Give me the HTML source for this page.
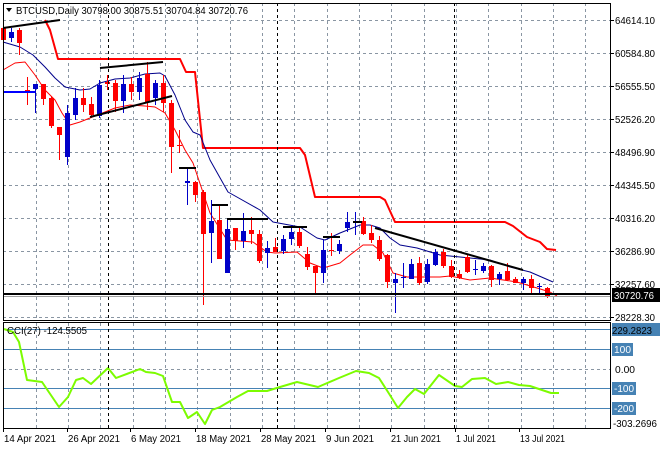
<!DOCTYPE html>
<html><head><meta charset="utf-8"><style>
html,body{margin:0;padding:0;background:#fff;}
svg{display:block;font-family:"Liberation Sans",sans-serif;}
</style></head><body>
<svg id="c" width="660" height="450" xmlns="http://www.w3.org/2000/svg">
<rect width="660" height="450" fill="#fff"/>
<g id="gridg" stroke="#8a96a3" stroke-width="1" stroke-dasharray="3,3"></g>
<g id="indg"></g>
<g id="candg"></g>
<g id="fgg"></g>
</svg>
<script>
(function(){
var NS="http://www.w3.org/2000/svg";
function el(p,t,a,txt){var e=document.createElementNS(NS,t);for(var k in a)e.setAttribute(k,a[k]);if(txt!==undefined)e.textContent=txt;p.appendChild(e);return e;}
function tx(p,x,y,s,col,w){var a={x:x,y:y,'font-size':10,fill:col||'#000'};if(w){a.textLength=w;a.lengthAdjust='spacingAndGlyphs';}return el(p,'text',a,s);}
var grid=document.getElementById('gridg'),ind=document.getElementById('indg'),cand=document.getElementById('candg'),fg=document.getElementById('fgg');
for(var x=35.5;x<611;x+=32.35){var xx=Math.round(x)+.5;el(grid,'line',{x1:xx,y1:3,x2:xx,y2:320});el(grid,'line',{x1:xx,y1:323,x2:xx,y2:428});}
[108.5,277.5,454.5].forEach(function(x){el(fg,'line',{x1:x,y1:3,x2:x,y2:320,stroke:'#000','stroke-dasharray':'3,3'});el(fg,'line',{x1:x,y1:323,x2:x,y2:428,stroke:'#000','stroke-dasharray':'3,3'});});
[20,53,86,119,152,185,218,251,284,317].forEach(function(y){el(grid,'line',{x1:3,y1:y+.5,x2:611,y2:y+.5});});
el(grid,'line',{x1:3,y1:369.5,x2:611,y2:369.5});
[329,349,388,408].forEach(function(y){el(ind,'line',{x1:3,y1:y+.5,x2:611,y2:y+.5,stroke:'#4682b4','stroke-width':1});});
function pl(p,pts,col,w){el(p,'polyline',{points:pts.map(function(q){return q.join(',');}).join(' '),fill:'none',stroke:col,'stroke-width':w,'stroke-linejoin':'round'});}
pl(ind,[[45,20],[50,30],[58,59],[180,59],[186,72],[195,72],[203,148],[300,148],[305,155],[315,197],[380,197],[385,200],[395,222],[505,222],[513,226],[527,237],[540,242],[547,249],[556,250]],'#ff0000',2);
pl(ind,[[3,42],[20,47],[33,55],[45,67],[55,78],[65,87],[80,90],[90,89],[100,83],[115,79],[130,78],[145,74],[160,73],[165,76],[175,95],[185,120],[193,132],[200,135],[210,160],[228,192],[260,210],[273,222],[300,227],[317,238],[325,240],[340,233],[360,225],[370,225],[380,228],[390,238],[400,245],[417,248],[440,255],[470,258],[490,260],[510,267],[530,272],[553,282]],'#00008b',1);
pl(ind,[[3,70],[15,63],[25,62],[35,75],[45,90],[55,100],[62,113],[70,125],[80,122],[90,118],[100,114],[115,108],[130,105],[145,106],[155,107],[165,113],[175,130],[185,150],[193,163],[210,213],[227,240],[253,242],[267,252],[275,253],[297,252],[310,263],[323,268],[330,266],[340,263],[350,255],[363,245],[373,245],[383,253],[393,273],[407,277],[440,277],[450,276],[470,280],[490,278],[517,282],[537,288],[550,292],[557,296]],'#ff0000',1);
var C=[[3,28,40,26,44,'r'],[11,38,32,28,42,'b'],[19,30,43,28,55,'r'],[27,90,91,77,105,'r'],[35,89,84,84,113,'b'],[43,84,99,84,105,'r'],[51,98,126,96,128,'r'],[59,127,135,127,160,'r'],[67,157,113,105,165,'b'],[75,115,98,88,120,'b'],[83,98,105,88,112,'r'],[91,104,115,97,118,'r'],[99,116,85,80,118,'b'],[107,82,84,75,90,'r'],[115,83,101,80,112,'r'],[123,101,84,75,113,'b'],[131,84,92,77,100,'r'],[139,92,78,72,100,'b'],[147,74,102,62,110,'r'],[155,98,83,80,105,'b'],[163,83,103,75,112,'r'],[171,103,147,100,173,'r'],[179,145,146,130,153,'r'],[187,183,181,168,205,'b'],[195,182,195,181,202,'r'],[203,192,234,190,305,'r'],[211,233,221,200,263,'b'],[219,220,259,206,259,'r'],[227,273,229,220,273,'b'],[235,228,241,228,250,'r'],[243,241,231,213,248,'b'],[251,230,234,217,244,'r'],[259,234,261,230,263,'r'],[267,253,248,241,268,'b'],[275,247,252,238,252,'r'],[283,251,239,235,254,'b'],[291,239,232,225,245,'b'],[299,232,246,228,248,'r'],[307,254,267,247,270,'r'],[315,266,273,266,294,'r'],[323,273,250,240,283,'b'],[331,250,251,233,256,'r'],[339,251,244,240,254,'b'],[347,228,222,212,232,'b'],[355,222,221,212,235,'b'],[363,221,234,217,235,'r'],[371,233,240,225,243,'r'],[379,240,259,236,261,'r'],[387,255,282,254,288,'r'],[395,283,279,273,313,'b'],[403,278,277,263,288,'b'],[411,279,264,259,279,'b'],[419,263,283,257,285,'r'],[427,282,264,259,284,'b'],[435,265,252,249,266,'b'],[443,252,266,249,268,'r'],[451,266,277,260,278,'r'],[459,274,278,270,279,'r'],[467,257,272,255,273,'r'],[475,270,269,260,275,'b'],[483,271,266,263,273,'b'],[491,266,280,265,287,'r'],[499,279,274,272,285,'b'],[507,271,280,263,281,'r'],[515,279,283,277,283,'r'],[523,283,279,277,290,'b'],[531,279,288,275,293,'r'],[539,287,286,283,293,'b'],[547,288,297,287,298,'r']];
C.forEach(function(c){var x=c[0],o=c[1],cl=c[2],h=c[3],l=c[4],col=c[5]==='r'?'#ff0000':'#0000c8';
el(cand,'line',{x1:x+.5,y1:h,x2:x+.5,y2:l,stroke:col,'stroke-width':1});
var y=Math.min(o,cl),hh=Math.max(1,Math.abs(o-cl));
el(cand,'rect',{x:x-2,y:y,width:5,height:hh,fill:col});});
var B=[[[3,28],[60,20]],[[100,68],[163,62]],[[90,117],[172,96]],[[375,228],[523,270]],[[179,168],[196,168]],[[212,205],[228,205]],[[227,219],[268,219]],[[283,227],[307,227]],[[323,237],[340,237]],[[353,222],[362,222]]];
B.forEach(function(s){pl(fg,s,'#000',2);});
pl(fg,[[3,92],[35,92]],'#0000ff',2);
el(fg,'line',{x1:3,y1:294,x2:611,y2:294,stroke:'#000','stroke-width':2});
el(fg,'line',{x1:3,y1:296.5,x2:611,y2:296.5,stroke:'#a0a0a0','stroke-width':1});
pl(ind,[[4,329],[13,332],[19,342],[27,380],[42,382],[59,407],[68,397],[76,380],[83,378],[91,384],[108,368],[116,378],[140,369],[146,372],[155,373],[163,376],[172,402],[180,402],[188,418],[197,412],[205,424],[212,410],[220,407],[237,397],[248,391],[267,391],[280,387],[297,382],[318,387],[339,378],[356,371],[369,373],[379,378],[388,392],[398,408],[407,397],[415,389],[424,394],[439,375],[455,386],[462,387],[472,379],[485,378],[496,384],[508,382],[519,385],[530,386],[536,388],[551,393],[559,393]],'#7cfc00',2);
el(fg,'rect',{x:3.5,y:3.5,width:607,height:317,fill:'none',stroke:'#000'});
el(fg,'rect',{x:3.5,y:322.5,width:607,height:106,fill:'none',stroke:'#000'});
[['64614.10',20],['60584.80',53],['56555.50',86],['52526.20',119],['48496.90',152],['44345.50',185],['40316.20',218],['36286.90',251],['32257.60',284],['28228.30',317]].forEach(function(a){el(fg,'line',{x1:611,y1:a[1]+.5,x2:614,y2:a[1]+.5,stroke:'#000'});tx(fg,615,a[1]+4,a[0],'#000',40);});
el(fg,'rect',{x:612,y:288,width:48,height:14,fill:'#000'});
tx(fg,614,299,'30720.76','#fff',40);
el(fg,'rect',{x:612,y:323,width:48,height:13,fill:'#4682b4'});
tx(fg,612,334,'229.2823','#000',40);
[['100',349,17],['-100',388,20],['-200',408,20]].forEach(function(a){el(fg,'rect',{x:612,y:a[1]-6,width:a[2]+4,height:13,fill:'#4682b4'});tx(fg,614,a[1]+4,a[0],'#fff',a[2]);});
tx(fg,615,373,'0.00','#000',20);
tx(fg,613,427,'-303.2696','#000',44);
el(fg,'path',{d:'M6,8 L12,8 L9,12 Z',fill:'#000'});
tx(fg,16,14,'BTCUSD,Daily  30798.00 30875.51 30704.84 30720.76','#000',232);
tx(fg,7,334,'CCI(27) -124.5505','#000',80);
[['14 Apr 2021',3,52],['26 Apr 2021',67,52],['6 May 2021',130,50],['18 May 2021',195,55],['28 May 2021',260,55],['9 Jun 2021',325,48],['21 Jun 2021',390,50],['1 Jul 2021',455,40],['13 Jul 2021',519,45]].forEach(function(a){el(fg,'line',{x1:a[1]+.5,y1:428,x2:a[1]+.5,y2:432,stroke:'#000'});tx(fg,a[1]+1,442,a[0],'#000',a[2]);});
})();
</script>
</body></html>
